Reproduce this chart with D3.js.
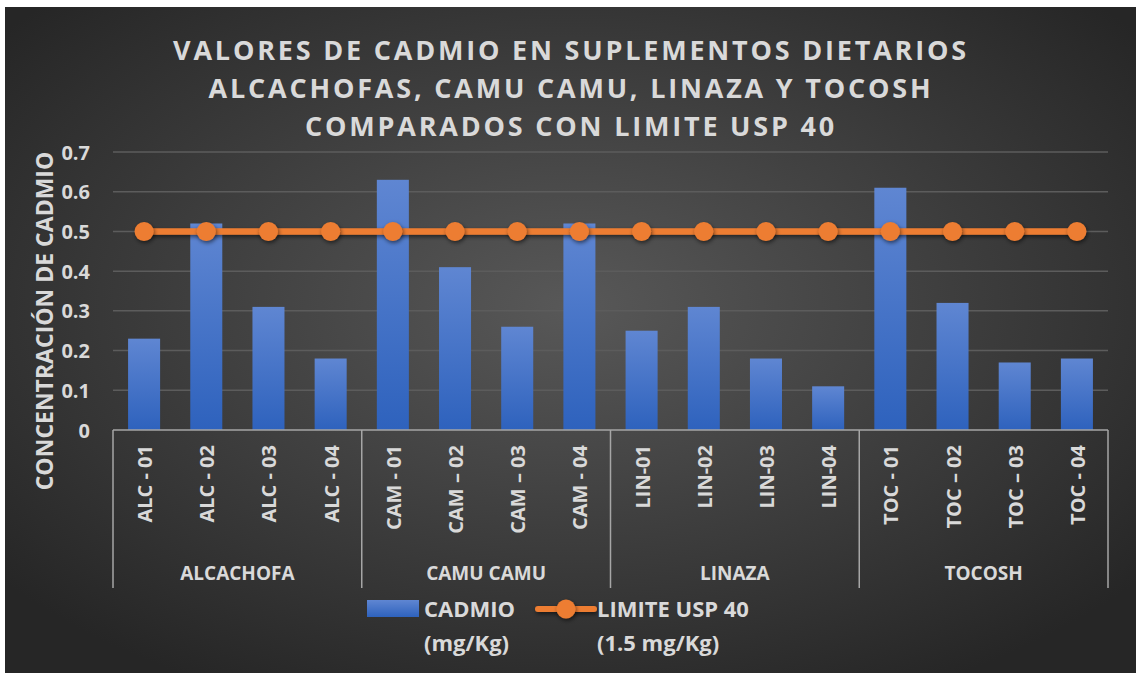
<!DOCTYPE html>
<html><head><meta charset="utf-8">
<script src="https://cdn.jsdelivr.net/npm/d3@7"></script>
<style>html,body{margin:0;padding:0;background:#fff;}svg{display:block;}</style>
</head><body>
<svg id="c" width="1139" height="673"></svg>
<script>
const categories = ["ALC - 01","ALC - 02","ALC - 03","ALC - 04","CAM - 01","CAM \u2013 02","CAM \u2013 03","CAM - 04","LIN-01","LIN-02","LIN-03","LIN-04","TOC - 01","TOC \u2013 02","TOC \u2013 03","TOC - 04"];
const groups = ["ALCACHOFA","CAMU CAMU","LINAZA","TOCOSH"];
const groupSize = [4,4,4,4];
const cadmio = [0.23,0.52,0.31,0.18,0.63,0.41,0.26,0.52,0.25,0.31,0.18,0.11,0.61,0.32,0.17,0.18];
const limite = [0.5,0.5,0.5,0.5,0.5,0.5,0.5,0.5,0.5,0.5,0.5,0.5,0.5,0.5,0.5,0.5];
const yTicks = [0,0.1,0.2,0.3,0.4,0.5,0.6,0.7];
const titleLines = ["VALORES DE CADMIO EN SUPLEMENTOS DIETARIOS","ALCACHOFAS, CAMU CAMU, LINAZA Y TOCOSH","COMPARADOS CON LIMITE USP 40"];
const yTitle = "CONCENTRACIÓN DE CADMIO";
const legendItems = [["CADMIO","(mg/Kg)"],["LIMITE USP 40","(1.5 mg/Kg)"]];

(function(){
const svg = d3.select("#c");
const defs = svg.append("defs");
const bg = defs.append("radialGradient").attr("id","bg").attr("cx","50%").attr("cy","45%").attr("r","65%");
bg.append("stop").attr("offset","0%").attr("stop-color","#585858");
bg.append("stop").attr("offset","100%").attr("stop-color","#262626");
const bar = defs.append("linearGradient").attr("id","bar").attr("x1",0).attr("y1",0).attr("x2",0).attr("y2",1);
bar.append("stop").attr("offset","0%").attr("stop-color","#5f86d2");
bar.append("stop").attr("offset","100%").attr("stop-color","#2e62bd");
const sh = defs.append("filter").attr("id","sh").attr("x","-50%").attr("y","-50%").attr("width","200%").attr("height","200%");
sh.append("feDropShadow").attr("dx",1).attr("dy",2).attr("stdDeviation",2).attr("flood-color","#000").attr("flood-opacity",0.55);
const shl = defs.append("filter").attr("id","shl").attr("filterUnits","userSpaceOnUse").attr("x",0).attr("y",0).attr("width",1139).attr("height",673);
shl.append("feDropShadow").attr("dx",1).attr("dy",2).attr("stdDeviation",2).attr("flood-color","#000").attr("flood-opacity",0.55);

svg.append("rect").attr("x",5).attr("y",7).attr("width",1131).attr("height",666).attr("fill","url(#bg)");

const font = "'Open Sans', 'Liberation Sans', sans-serif";
const txt = "#d9d9d9";
const pL=113, pR=1108, pT=152, pB=430;
const x = d3.scaleBand().domain(categories).range([pL,pR]).paddingInner(0.485).paddingOuter(0.2425);
const y = d3.scaleLinear().domain([0,0.7]).range([pB,pT]);

const t = svg.append("text").attr("text-anchor","middle").attr("fill",txt)
  .style("font-family",font).style("font-weight",700).style("font-size","27px").style("letter-spacing","2.8px");
titleLines.forEach((l,i)=>t.append("tspan").attr("x",571).attr("y",60+i*38).text(l));

svg.append("g").selectAll("line").data(yTicks.filter(d=>d>0)).join("line")
  .attr("x1",pL).attr("x2",pR).attr("y1",d=>y(d)).attr("y2",d=>y(d))
  .attr("stroke","#5c5c5c").attr("stroke-width",1.5);

const ya = svg.append("g").attr("transform",`translate(${pL},0)`)
  .call(d3.axisLeft(y).tickValues(yTicks).tickSize(0).tickPadding(23).tickFormat(d=>d===0?"0":d3.format(".1f")(d)));
ya.select(".domain").remove();
ya.selectAll("text").attr("fill",txt).style("font-family",font).style("font-weight",700).style("font-size","20px").attr("dy","0.35em");

svg.append("text").attr("transform",`translate(45,321) rotate(-90)`).attr("dy","0.35em")
  .attr("text-anchor","middle").attr("fill",txt).style("font-family",font).style("font-weight",700).style("font-size","23px").text(yTitle);

svg.append("g").selectAll("rect").data(cadmio).join("rect")
  .attr("x",(d,i)=>x(categories[i])).attr("width",x.bandwidth())
  .attr("y",d=>y(d)).attr("height",d=>y(0)-y(d)).attr("fill","url(#bar)");

const step = x.step();
svg.append("line").attr("x1",pL).attr("x2",pR).attr("y1",pB).attr("y2",pB).attr("stroke","#a6a6a6").attr("stroke-width",1.5);
let acc=0; const bounds=[0];
groupSize.forEach(g=>{acc+=g;bounds.push(acc);});
svg.append("g").selectAll("line").data(bounds).join("line")
  .attr("x1",d=>pL+d*step).attr("x2",d=>pL+d*step).attr("y1",pB).attr("y2",588)
  .attr("stroke","#a6a6a6").attr("stroke-width",1.5);

svg.append("g").selectAll("text").data(categories).join("text")
  .attr("transform",d=>`translate(${x(d)+x.bandwidth()/2+1},445) rotate(-90)`).attr("dy","0.35em")
  .attr("text-anchor","end").attr("fill",txt).style("font-family",font).style("font-weight",700).style("font-size","20px").text(d=>d);

svg.append("g").selectAll("text").data(groups).join("text")
  .attr("x",(d,i)=>pL+(bounds[i]+bounds[i+1])/2*step).attr("y",580)
  .attr("text-anchor","middle").attr("fill",txt).style("font-family",font).style("font-weight",700).style("font-size","19px").text(d=>d);

const cx = (d,i)=>x(categories[i])+x.bandwidth()/2;
svg.append("path").datum(limite).attr("d",d3.line().x(cx).y(d=>y(d)))
  .attr("fill","none").attr("stroke","#ed7d31").attr("stroke-width",6.5).attr("filter","url(#shl)");
svg.append("g").selectAll("circle").data(limite).join("circle")
  .attr("cx",cx).attr("cy",d=>y(d)).attr("r",9.5).attr("fill","#ed7d31").attr("filter","url(#sh)");

const lg = svg.append("g").style("font-family",font).style("font-weight",700).style("font-size","22px").attr("fill",txt);
lg.append("rect").attr("x",367).attr("y",600).attr("width",52).attr("height",17).attr("fill","url(#bar)");
lg.append("text").attr("x",424).attr("y",617).text(legendItems[0][0]);
lg.append("text").attr("x",424).attr("y",651).text(legendItems[0][1]);
lg.append("line").attr("x1",538).attr("x2",594).attr("y1",609).attr("y2",609).attr("stroke","#ed7d31").attr("stroke-width",6).attr("stroke-linecap","round").attr("filter","url(#shl)");
lg.append("circle").attr("cx",566).attr("cy",609).attr("r",9.5).attr("fill","#ed7d31").attr("filter","url(#sh)");
lg.append("text").attr("x",597).attr("y",617).text(legendItems[1][0]);
lg.append("text").attr("x",597).attr("y",651).text(legendItems[1][1]);
})();
</script>
</body></html>
